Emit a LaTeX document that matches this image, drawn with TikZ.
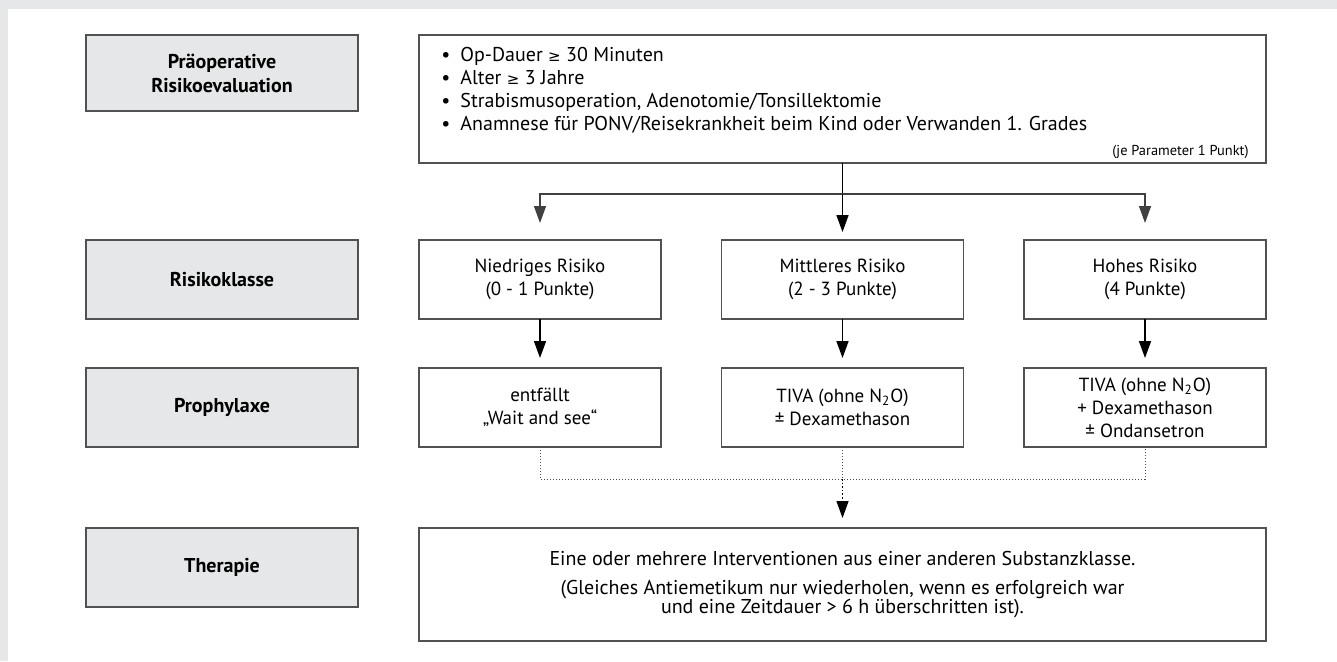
\documentclass[tikz,border=0pt]{standalone}
\usepackage{fontspec}
\setmainfont{PT Sans}
\newfontfamily\symf{DejaVu Sans}
\usetikzlibrary{arrows.meta,positioning,calc}
\definecolor{panelgray}{HTML}{E6E7E8}
\definecolor{framegray}{HTML}{505153}
\newcommand{\gq}{{\symf\fontsize{7.5}{8}\selectfont ≥}}

\begin{document}
\begin{tikzpicture}[x=0.5pt,y=-0.5pt,
    tagbox/.style={draw=framegray,fill=panelgray,line width=0.7pt,minimum width=136pt,
      minimum height=39.5pt,inner sep=0pt,outer sep=0pt,align=center,
      font=\fontsize{10}{12}\selectfont\bfseries},
    stage/.style={draw=framegray,fill=white,line width=0.7pt,minimum width=121pt,
      minimum height=39.5pt,inner sep=0pt,outer sep=0pt,align=center,
      font=\fontsize{9.5}{11.5}\selectfont},
    wide/.style={stage,minimum width=423.5pt,font=\fontsize{10}{11.5}\selectfont},
    flow/.style={-{Triangle[width=6pt,length=8.5pt]},line width=0.8pt},
    sideflow/.style={flow,draw=black!75,line width=0.6pt},
    hint/.style={densely dotted,line width=0.5pt,draw=black!70}]
  \fill[panelgray] (0,0) rectangle (1337,661);
  \fill[white] (8,9) rectangle (1337,661);

  % left column
  \node[tagbox,minimum height=38pt] (pre) at (222,73) {Präoperative\\Risikoevaluation};
  \node[tagbox] (kla) at (222,279.5) {Risikoklasse};
  \node[tagbox] (pro) at (222,407.5) {Prophylaxe};
  \node[tagbox] (the) at (222,567.5) {Therapie};

  % score
  \node[wide,minimum height=64pt] (crit) at (842.5,99) {};
  \node[anchor=north west,inner sep=0pt,align=left,font=\fontsize{10}{11.5}\selectfont]
    (items) at ($(crit.north west)+(22,12)$)
    {\textbullet\enspace Op-Dauer \gq{} 30 Minuten\\
     \textbullet\enspace Alter \gq{} 3 Jahre\\
     \textbullet\enspace Strabismusoperation, Adenotomie/Tonsillektomie\\
     \textbullet\enspace Anamnese für PONV/Reisekrankheit beim Kind oder Verwanden 1. Grades};
  \node[anchor=base east,inner sep=0pt,font=\fontsize{7.2}{8}\selectfont]
    (note) at ($(crit.south east)+(-17,-8)$) {(je Parameter 1 Punkt)};

  % classes
  \node[stage] (r1) at (540,279.5) {Niedriges Risiko\\(0 - 1 Punkte)};
  \node[stage] (r2) at (842.5,279.5) {Mittleres Risiko\\(2 - 3 Punkte)};
  \node[stage] (r3) at (1145,279.5) {Hohes Risiko\\(4 Punkte)};

  \node[stage] (p1) at (540,407.5) {entfällt\\„Wait and see“};
  \node[stage] (p2) at (842.5,407.5) {TIVA (ohne N\textsubscript{2}O)\\± Dexamethason};
  \node[stage] (p3) at (1145,407.5) {TIVA (ohne N\textsubscript{2}O)\\+ Dexamethason\\± Ondansetron};

  \node[wide,minimum height=56.5pt] (ther) at (842.5,584.5)
    {Eine oder mehrere Interventionen aus einer anderen Substanzklasse.\\[3pt]
     (Gleiches Antiemetikum nur wiederholen, wenn es erfolgreich war\\[-2pt]
     und eine Zeitdauer > 6 h überschritten ist).};

  % connectors
  \coordinate (fork) at ($(crit.south)+(0,31)$);
  \draw[line width=0.8pt] (crit.south) -- (fork);
  \draw[sideflow,shorten >=8.5pt] (fork) -| (r1.north);
  \draw[sideflow,shorten >=8.5pt] (fork) -| (r3.north);
  \draw[flow,shorten >=4pt] (fork) -- (r2.north);
  \draw[flow,shorten >=5pt] (r1) -- (p1);
  \draw[flow,shorten >=5pt] (r2) -- (p2);
  \draw[flow,shorten >=5pt] (r3) -- (p3);

  \coordinate (join) at ($(p2.south)+(0,32)$);
  \draw[hint] (p1.south) |- (join) -| (p3.south);
  \draw[hint] (p2.south) -- (join);
  \draw[flow,densely dotted,line width=0.6pt,shorten >=5pt] (join) -- (ther.north);
\end{tikzpicture}
\end{document}
